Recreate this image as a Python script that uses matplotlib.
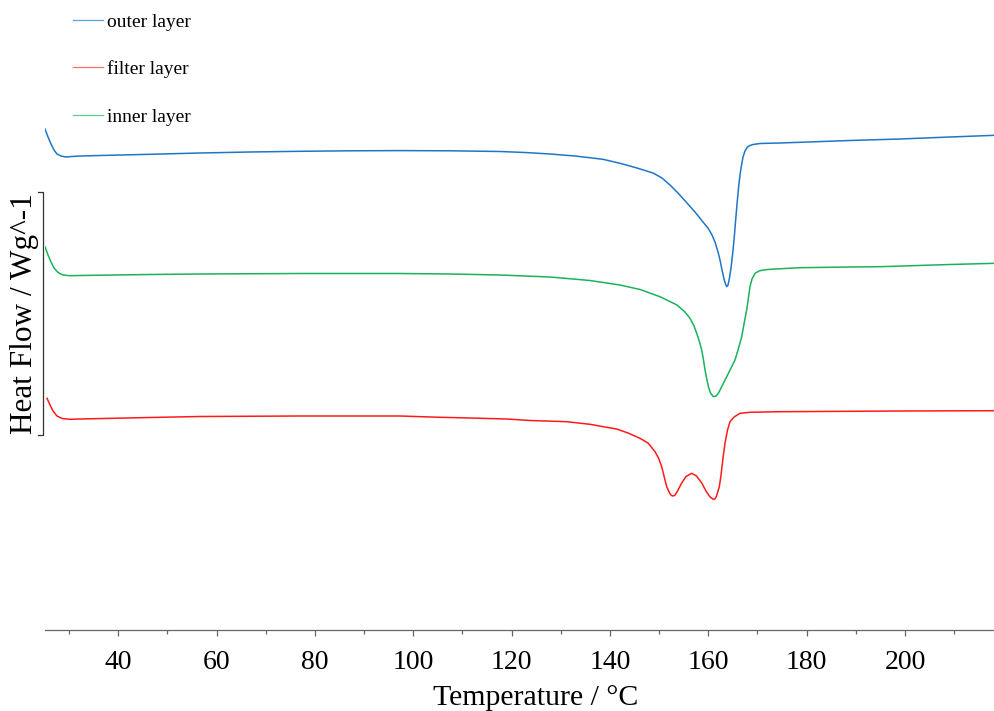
import matplotlib
matplotlib.use("Agg")
import matplotlib.pyplot as plt
from matplotlib.ticker import MultipleLocator
from matplotlib.lines import Line2D

plt.rcParams['font.family'] = ['Liberation Serif', 'DejaVu Serif']

# ---- data (temperature in °C, heat flow in arbitrary offset units) ----
outer_T = [25.09, 25.70, 26.31, 26.92, 27.53, 28.35, 29.33, 30.58, 32.21, 36.28,
           46.45, 56.62, 66.79, 76.96, 87.13, 97.29, 107.46, 117.63, 122.72, 127.80,
           132.89, 138.58, 142.04, 145.50, 148.75, 150.58, 152.21, 153.83, 155.66, 157.29,
           158.92, 159.93, 160.75, 161.36, 161.97, 162.38, 162.79, 163.19, 163.50, 163.74,
           164.01, 164.31, 164.62, 164.92, 165.23, 165.53, 165.84, 166.14, 166.45, 166.76,
           167.06, 167.46, 167.97, 168.48, 169.09, 170.52, 174.59, 178.65, 188.82, 198.99,
           209.16, 218.31]
outer_hf = [5.01, 4.93, 4.86, 4.80, 4.76, 4.74, 4.73, 4.735, 4.74, 4.745,
            4.757, 4.77, 4.78, 4.787, 4.792, 4.794, 4.792, 4.785, 4.775, 4.76,
            4.74, 4.707, 4.667, 4.62, 4.57, 4.52, 4.45, 4.37, 4.27, 4.18,
            4.08, 4.02, 3.95, 3.88, 3.78, 3.70, 3.60, 3.51, 3.46, 3.433,
            3.45, 3.52, 3.62, 3.75, 3.90, 4.08, 4.26, 4.42, 4.55, 4.65,
            4.73, 4.79, 4.83, 4.845, 4.855, 4.865, 4.87, 4.877, 4.895, 4.91,
            4.93, 4.947]

inner_T = [25.09, 25.70, 26.31, 26.92, 27.74, 28.75, 30.18, 32.21, 46.45, 56.62,
           76.96, 97.29, 107.46, 117.63, 127.80, 135.93, 142.04, 146.11, 150.17, 153.63,
           155.25, 156.27, 157.09, 157.70, 158.21, 158.66, 159.02, 159.33, 159.73, 160.04,
           160.45, 161.02, 161.57, 162.04, 162.79, 163.74, 164.62, 165.43, 166.04, 166.80,
           167.26, 167.81, 168.18, 168.48, 168.89, 169.50, 170.32, 171.18, 172.55, 178.65,
           188.82, 194.92, 209.16, 218.31]
inner_hf = [3.833, 3.75, 3.68, 3.62, 3.575, 3.55, 3.543, 3.545, 3.555, 3.56,
            3.565, 3.565, 3.56, 3.55, 3.53, 3.495, 3.45, 3.405, 3.333, 3.25,
            3.18, 3.117, 3.04, 2.96, 2.88, 2.80, 2.70, 2.60, 2.50, 2.43,
            2.37, 2.333, 2.34, 2.367, 2.44, 2.533, 2.62, 2.70, 2.80, 2.933,
            3.06, 3.20, 3.33, 3.433, 3.51, 3.567, 3.59, 3.60, 3.607, 3.623,
            3.63, 3.633, 3.655, 3.667]

filter_T = [25.50, 26.11, 26.72, 27.53, 28.55, 30.18, 32.21, 46.45, 56.62, 76.96,
            97.29, 105.43, 111.53, 118.99, 123.73, 131.19, 135.94, 138.99, 141.37, 143.67,
            146.11, 147.74, 149.16, 149.87, 150.52, 150.99, 151.54, 152.11, 152.50, 152.88,
            153.25, 153.63, 154.59, 155.46, 156.62, 157.60, 158.66, 159.53, 160.34, 161.02,
            161.35, 161.67, 162.24, 162.59, 162.99, 163.40, 163.91, 164.41, 165.23, 166.45,
            168.48, 174.59, 188.82, 198.99, 218.31]
filter_hf = [2.317, 2.25, 2.19, 2.14, 2.115, 2.107, 2.11, 2.125, 2.135, 2.14,
             2.14, 2.127, 2.12, 2.11, 2.095, 2.083, 2.057, 2.03, 2.01, 1.97,
             1.917, 1.87, 1.783, 1.72, 1.633, 1.54, 1.433, 1.37, 1.345, 1.34,
             1.35, 1.38, 1.47, 1.535, 1.567, 1.54, 1.47, 1.39, 1.33, 1.307,
             1.31, 1.34, 1.433, 1.55, 1.72, 1.87, 2.00, 2.083, 2.13, 2.167,
             2.177, 2.183, 2.187, 2.19, 2.193]

labels = ["outer layer", "filter layer", "inner layer"]
colors = {"outer layer": "#1f76c6", "filter layer": "#ff1a1a", "inner layer": "#19b35a"}
legend_colors = {"outer layer": "#5aa3e0", "filter layer": "#ff6b6b", "inner layer": "#5fcf8f"}

fig = plt.figure(figsize=(9.95, 7.11), dpi=100)
ax = fig.add_axes([45/995, 81/711, 950/995, 630/711])

ax.plot(outer_T, outer_hf, color=colors["outer layer"], lw=1.1)
ax.plot(inner_T, inner_hf, color=colors["inner layer"], lw=1.1)
ax.plot(filter_T, filter_hf, color=colors["filter layer"], lw=1.1)

ax.set_xlim(25.09, 218.31)
ax.set_ylim(0, 6.30)

for s in ["left", "top", "right"]:
    ax.spines[s].set_visible(False)
ax.spines["bottom"].set_color("#666666")
ax.spines["bottom"].set_linewidth(0.9)
ax.set_yticks([])
ax.xaxis.set_major_locator(MultipleLocator(20))
ax.xaxis.set_minor_locator(MultipleLocator(10))
ax.tick_params(axis="x", which="major", direction="out", length=4.5, width=0.9,
               color="#666666", labelsize=20, pad=10, labelcolor="black")
ax.tick_params(axis="x", which="minor", direction="out", length=3, width=0.9, color="#666666")

fig.text(536/995, 1 - 698/711, "Temperature / °C", ha="center", va="center", fontsize=21.5)
fig.text(25/995, 1 - 313.5/711, "Heat Flow / Wg^-1", ha="center", va="center",
         rotation=90, fontsize=22.5)

# scale bracket next to y label
fig.add_artist(Line2D([38/995, 43/995, 43/995, 38/995],
                      [1 - 192/711, 1 - 192/711, 1 - 435/711, 1 - 435/711],
                      color="#333333", lw=0.9, transform=fig.transFigure))

handles = [Line2D([], [], color=legend_colors[l], lw=0.9) for l in labels]
ax.legend(handles, labels, loc="upper left", bbox_to_anchor=(73/995, 1 - 13/711),
          bbox_transform=fig.transFigure, frameon=False, fontsize=14,
          handlelength=1.55, handletextpad=0.2, labelspacing=1.53,
          borderpad=0, borderaxespad=0)

fig.savefig("out.png", dpi=100)
